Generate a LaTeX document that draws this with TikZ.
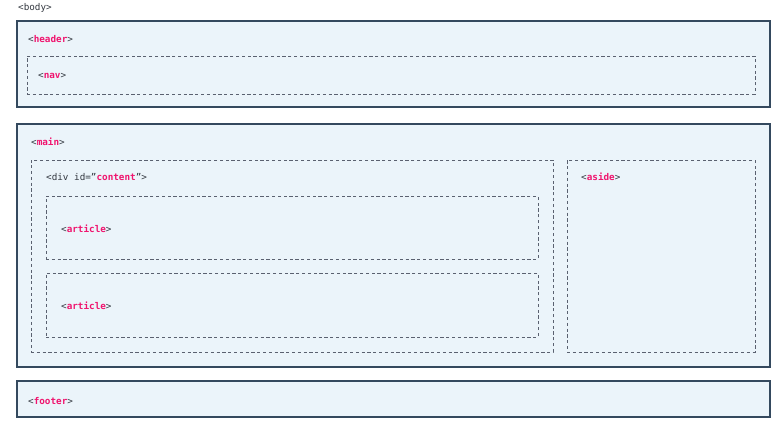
\documentclass[tikz,border=0pt]{standalone}
\usepackage{fontspec}
\setmonofont{DejaVu Sans Mono}
\usetikzlibrary{positioning}

\definecolor{boxfill}{HTML}{EBF4FA}
\definecolor{boxline}{HTML}{34495E}
\definecolor{dashline}{HTML}{5A6170}
\definecolor{tagpink}{HTML}{F0146E}
\definecolor{tagtext}{HTML}{333840}

\newcommand{\tagname}[1]{<\textbf{\textcolor{tagpink}{#1}}>}

\begin{document}
\begin{tikzpicture}[x=1pt,y=-1pt,
        outerbox/.style={draw=boxline, line width=1.8pt, fill=boxfill, anchor=north west,
            inner sep=0pt, outer sep=0pt},
        innerbox/.style={draw=dashline, line width=0.8pt, dash pattern=on 3.2pt off 2.6pt,
            anchor=north west, inner sep=0pt, outer sep=0pt},
        tag/.style={anchor=base west, inner sep=0pt, text=tagtext,
            font=\fontsize{9.3}{11}\selectfont\ttfamily}]
        \useasboundingbox (0,0) rectangle (782,433);

        \node[tag] (body) at (18,11) {<body>};

        \node[outerbox, minimum width=753, minimum height=86] (header) at (17,21) {};
        \node[innerbox, minimum width=728, minimum height=38] (nav) at (27,56) {};
        \node[tag] (headerlbl) at (28,43) {\tagname{header}};
        \node[tag] (navlbl) at (38,79) {\tagname{nav}};

        \node[outerbox, minimum width=753, minimum height=243] (main) at (17,124) {};
        \node[innerbox, minimum width=522, minimum height=192] (content) at (31,160) {};
        \node[innerbox, minimum width=492, minimum height=63] (article1) at (46,196) {};
        \node[innerbox, minimum width=492, minimum height=64] (article2) at (46,273) {};
        \node[innerbox, minimum width=188, minimum height=192] (aside) at (567,160) {};
        \node[tag] (mainlbl) at (31,146) {\tagname{main}};
        \node[tag] (contentlbl) at (46,181) {<div id=”\textbf{\textcolor{tagpink}{content}}”>};
        \node[tag] (article1lbl) at (61,232) {\tagname{article}};
        \node[tag] (article2lbl) at (61,309) {\tagname{article}};
        \node[tag] (asidelbl) at (581,181) {\tagname{aside}};

        \node[outerbox, minimum width=753, minimum height=36] (footer) at (17,381) {};
        \node[tag] (footerlbl) at (28,404) {\tagname{footer}};
    \end{tikzpicture}
\end{document}
